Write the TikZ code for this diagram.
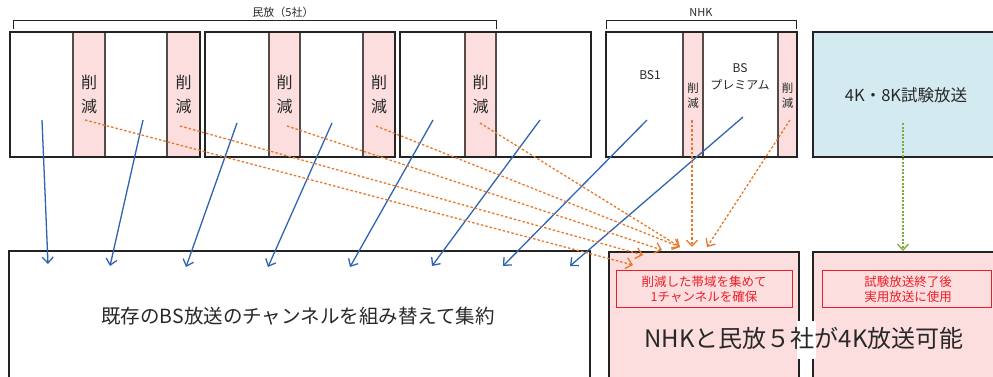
\documentclass[tikz,border=0pt]{standalone}
\usepackage{fontspec}
\setmainfont{Noto Sans CJK JP}
\usetikzlibrary{arrows.meta}
\definecolor{pinkc}{RGB}{252,222,222}
\definecolor{bluefill}{RGB}{211,234,240}
\definecolor{boxc}{RGB}{35,35,35}
\definecolor{stripc}{RGB}{85,75,75}
\definecolor{bluec}{RGB}{46,100,176}
\definecolor{orangec}{RGB}{232,120,40}
\definecolor{greenc}{RGB}{125,170,60}
\definecolor{redc}{RGB}{235,30,40}
\definecolor{textc}{RGB}{40,40,40}
\begin{document}
\begin{tikzpicture}[x=1pt,y=-1pt,
  rect/.style={rectangle, inner sep=0pt, outer sep=0pt, anchor=north west},
  bigbox/.style={rect, draw=boxc, line width=2.2pt},
  strip/.style={rect, fill=pinkc, draw=stripc, line width=1.2pt},
  cut/.style={text=textc, align=center, font=\fontsize{16}{24}\selectfont},
  smallcut/.style={text=textc, align=center, font=\fontsize{11.5}{15.5}\selectfont},
  lbl/.style={text=textc, align=center, font=\fontsize{11}{13}\selectfont},
  redbox/.style={rect, draw=redc, line width=0.9pt},
  redtxt/.style={text=redc, align=center, font=\fontsize{12.5}{15}\selectfont},
  tip/.style={-{Straight Barb[length=6pt,width=11pt]}},
  bluearr/.style={draw=bluec, line width=1.3pt, tip},
  orangearr/.style={draw=orangec, line width=1.3pt, dash pattern=on 2.5pt off 2pt, tip},
  greenarr/.style={draw=greenc, line width=1.3pt, dash pattern=on 2pt off 1.5pt, tip},
  bracket/.style={draw=boxc, line width=0.9pt}
]
\useasboundingbox (0,0) rectangle (993,376);
\clip (0,0) rectangle (993,376);

% brackets
\coordinate (bka) at (13,29); \coordinate (bkb) at (13,20);
\coordinate (bkc) at (496,20); \coordinate (bkd) at (496,29);
\draw[bracket] (bka) -- (bkb) -- (bkc) -- (bkd);
\node[lbl] (lmin) at (283,12) {民放（5社）};
\coordinate (nka) at (606,29); \coordinate (nkb) at (606,20);
\coordinate (nkc) at (796,20); \coordinate (nkd) at (796,29);
\draw[bracket] (nka) -- (nkb) -- (nkc) -- (nkd);
\node[lbl] (lnhk) at (701,12) {NHK};

% top row strips
\node[strip, minimum width=32pt, minimum height=125pt] (p1) at (73,32) {};
\node[strip, minimum width=33pt, minimum height=125pt] (p2) at (167,32) {};
\node[strip, minimum width=31pt, minimum height=125pt] (p3) at (269,32) {};
\node[strip, minimum width=32pt, minimum height=125pt] (p4) at (363,32) {};
\node[strip, minimum width=31pt, minimum height=125pt] (p5) at (465,32) {};
\node[strip, minimum width=20pt, minimum height=125pt] (p6) at (683,32) {};
\node[strip, minimum width=19pt, minimum height=125pt] (p7) at (778,32) {};
% 4K box
\node[bigbox, fill=bluefill, minimum width=200pt, minimum height=125pt] (b5) at (813,32) {};
% outlines
\node[bigbox, minimum width=190pt, minimum height=125pt] (b1) at (10,32) {};
\node[bigbox, minimum width=190pt, minimum height=125pt] (b2) at (205,32) {};
\node[bigbox, minimum width=191pt, minimum height=125pt] (b3) at (400,32) {};
\node[bigbox, minimum width=191pt, minimum height=125pt] (b4) at (606,32) {};

% strip labels
\node[cut] (c1) at (89,94) {削\\減};
\node[cut] (c2) at (183.5,94) {削\\減};
\node[cut] (c3) at (284.5,94) {削\\減};
\node[cut] (c4) at (379,94) {削\\減};
\node[cut] (c5) at (480.5,94) {削\\減};
\node[smallcut] (c6) at (693,95.5) {削\\減};
\node[smallcut] (c7) at (787.5,95.5) {削\\減};
\node[text=textc, font=\fontsize{12}{14}\selectfont] (bs1) at (650,75) {BS1};
\node[text=textc, align=center, font=\fontsize{12}{17}\selectfont] (bsp) at (740,76.5) {BS\\プレミアム};
\node[text=textc, font=\fontsize{16.5}{20}\selectfont] (t4k) at (906,95) {4K・8K試験放送};

% bottom row
\node[bigbox, minimum width=581pt, minimum height=160pt] (d1) at (9,251) {};
\node[bigbox, fill=pinkc, minimum width=190pt, minimum height=160pt] (d2) at (609,252) {};
\node[bigbox, fill=pinkc, minimum width=220pt, minimum height=160pt] (d3) at (813,252) {};
\node[redbox, minimum width=176pt, minimum height=37pt] (r1) at (616,270) {};
\node[redbox, minimum width=169pt, minimum height=37pt] (r2) at (822,270) {};
\node[redtxt] (rt1) at (704,289.5) {削減した帯域を集めて\\1チャンネルを確保};
\node[redtxt] (rt2) at (908,289.5) {試験放送終了後\\実用放送に使用};
\node[rect, fill=white, minimum width=19pt, minimum height=38pt] (gap) at (796.5,321) {};
\node[text=textc, font=\fontsize{19.5}{22}\selectfont] (tex) at (298,316) {既存のBS放送のチャンネルを組み替えて集約};
\node[text=textc, font=\fontsize{24}{28}\selectfont] (tbig) at (804,338) {NHKと民放５社が4K放送可能};

% blue arrows
\coordinate (s1) at (42,120);  \coordinate (e1) at (48,264);
\coordinate (s2) at (143,120); \coordinate (e2) at (110,266);
\coordinate (s3) at (237,123); \coordinate (e3) at (186,267);
\coordinate (s4) at (332,123); \coordinate (e4) at (268,267);
\coordinate (s5) at (433,120); \coordinate (e5) at (350,267);
\coordinate (s6) at (540,120); \coordinate (e6) at (432,266);
\coordinate (s7) at (647,120); \coordinate (e7) at (503,266);
\coordinate (s8) at (743,117); \coordinate (e8) at (570,266);
\foreach \i in {1,...,8} \draw[bluearr] (s\i) -- (e\i);

% orange arrows
\coordinate (o1) at (85,120);  \coordinate (f1) at (633,265);
\coordinate (o2) at (180,126); \coordinate (f2) at (643,255);
\coordinate (o3) at (287,126); \coordinate (f3) at (662,250);
\coordinate (o4) at (376,126); \coordinate (f4) at (680,247);
\coordinate (o5) at (480,123); \coordinate (f5) at (680,247);
\coordinate (o6) at (692,120); \coordinate (f6) at (692,247);
\coordinate (o7) at (790,120); \coordinate (f7) at (707,247);
\foreach \i in {1,...,7} \draw[orangearr] (o\i) -- (f\i);

% green arrow
\coordinate (g1) at (903,123); \coordinate (g2) at (903,251);
\draw[greenarr] (g1) -- (g2);
\end{tikzpicture}
\end{document}
